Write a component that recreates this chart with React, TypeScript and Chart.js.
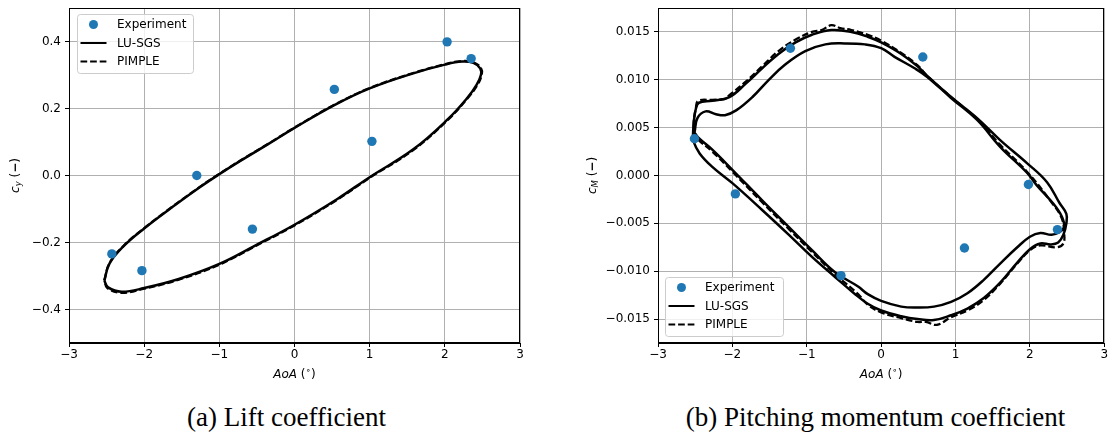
import React, { useEffect, useRef } from "react";
import { Chart, registerables } from "chart.js";
Chart.register(...registerables);

// ---------------- data ----------------
const xTickValues = [-3, -2, -1, 0, 1, 2, 3];
const liftTickValues = [-0.4, -0.2, 0.0, 0.2, 0.4];
const momentTickValues = [-0.015, -0.01, -0.005, 0.0, 0.005, 0.01, 0.015];
const seriesNames = ["Experiment", "LU-SGS", "PIMPLE"];
const captionA = "(a) Lift coefficient";
const captionB = "(b) Pitching momentum coefficient";

// (a) lift coefficient
const liftExpAoa = [-2.43, -2.03, -1.3, -0.56, 0.53, 1.03, 2.03, 2.35];
const liftExpCy = [-0.234, -0.284, 0.0, -0.16, 0.257, 0.102, 0.399, 0.349];

const liftLuAoa = [-2.53, -2.46, -2.27, -2.0, -1.63, -1.26, -1.0, -0.71, -0.34, 0.0, 0.53, 1.0, 1.58, 2.0, 2.23, 2.38, 2.47, 2.48, 2.42, 2.3, 2.04, 1.58, 1.0, 0.57, 0.0, -0.53, -1.0, -1.54, -2.0, -2.3, -2.48, -2.53];
const liftLuCy = [-0.314, -0.262, -0.21, -0.158, -0.095, -0.035, 0.004, 0.045, 0.095, 0.142, 0.21, 0.26, 0.305, 0.331, 0.34, 0.336, 0.32, 0.3, 0.27, 0.232, 0.168, 0.078, -0.005, -0.07, -0.147, -0.21, -0.264, -0.309, -0.336, -0.347, -0.334, -0.314];

const liftPiAoa = [-2.53, -2.46, -2.27, -2.0, -1.63, -1.26, -1.0, -0.71, -0.34, 0.0, 0.53, 1.0, 1.58, 2.0, 2.23, 2.38, 2.48, 2.49, 2.43, 2.3, 2.04, 1.58, 1.0, 0.57, 0.0, -0.53, -1.0, -1.54, -2.0, -2.3, -2.49, -2.53];
const liftPiCy = [-0.313, -0.261, -0.209, -0.157, -0.094, -0.034, 0.005, 0.046, 0.096, 0.143, 0.211, 0.261, 0.306, 0.332, 0.342, 0.338, 0.321, 0.3, 0.269, 0.23, 0.166, 0.076, -0.007, -0.072, -0.149, -0.212, -0.266, -0.311, -0.338, -0.35, -0.336, -0.313];

// (b) pitching momentum coefficient
const momExpAoa = [-2.51, -1.96, -1.22, -0.54, 0.56, 1.12, 1.98, 2.37];
const momExpCm = [0.00384, -0.00192, 0.01329, -0.01046, 0.01238, -0.00757, -0.00094, -0.00565];

// LU-SGS: outer cycle followed by inner cycle
const momLuAoa = [
  -2.53, -2.52, -2.49, -2.45, -2.27, -2.04, -1.82, -1.6, -1.38, -1.15, -0.93, -0.67, -0.4, -0.18, 0.0, 0.27, 0.49, 0.62, 0.94, 1.29, 1.6, 1.96, 2.23, 2.4, 2.49, 2.49, 2.45, 2.38, 2.28, 2.14, 2.0, 1.83, 1.6, 1.38, 1.16, 0.94, 0.71, 0.49, 0.27, 0.0, -0.18, -0.35, -0.62, -0.93, -1.24, -1.6, -2.0, -2.27, -2.44, -2.53, -2.53,
  -2.51, -2.47, -2.36, -2.22, -2.1, -1.95, -1.73, -1.51, -1.29, -1.02, -0.75, -0.49, -0.22, 0.0, 0.18, 0.45, 0.62, 0.94, 1.29, 1.6, 1.96, 2.09, 2.31, 2.43, 2.46, 2.4, 2.29, 2.14, 2.0, 1.83, 1.6, 1.38, 1.16, 0.94, 0.71, 0.49, 0.27, 0.0, -0.18, -0.31, -0.62, -0.93, -1.24, -1.6, -2.0, -2.27, -2.45, -2.51,
];
const momLuCm = [
  0.0042, 0.0055, 0.007, 0.0076, 0.0078, 0.0082, 0.0096, 0.0112, 0.0127, 0.0139, 0.0147, 0.0152, 0.015, 0.0145, 0.0139, 0.0127, 0.0114, 0.0104, 0.0082, 0.006, 0.0037, 0.0013, -0.0007, -0.0029, -0.004, -0.005, -0.0062, -0.007, -0.0072, -0.0071, -0.0077, -0.0091, -0.0112, -0.0128, -0.0139, -0.0146, -0.0151, -0.015, -0.0147, -0.0141, -0.0134, -0.0124, -0.0106, -0.0085, -0.0062, -0.0036, -0.0008, 0.0009, 0.0023, 0.0037, 0.0042,
  0.0045, 0.006, 0.0067, 0.0064, 0.0063, 0.0068, 0.0082, 0.01, 0.0116, 0.013, 0.0137, 0.0138, 0.0137, 0.0133, 0.0124, 0.0112, 0.0103, 0.0081, 0.0058, 0.003, 0.0003, -0.001, -0.0029, -0.0043, -0.0054, -0.0059, -0.0062, -0.006, -0.0064, -0.0075, -0.0092, -0.0109, -0.0123, -0.0132, -0.0137, -0.0138, -0.0137, -0.0131, -0.0124, -0.0116, -0.0101, -0.0078, -0.0054, -0.0026, 0.0006, 0.0027, 0.0039, 0.0045,
];

const momPiAoa = [-2.51, -2.52, -2.49, -2.46, -2.27, -2.1, -2.04, -1.82, -1.6, -1.38, -1.15, -0.93, -0.8, -0.67, -0.55, -0.4, -0.18, 0.0, 0.27, 0.49, 0.62, 0.94, 1.29, 1.6, 1.96, 2.31, 2.43, 2.46, 2.45, 2.36, 2.14, 2.0, 1.83, 1.6, 1.38, 1.16, 0.94, 0.75, 0.6, 0.49, 0.27, 0.0, -0.18, -0.31, -0.62, -0.93, -1.24, -1.6, -2.0, -2.27, -2.44, -2.51];
const momPiCm = [0.0041, 0.0055, 0.0071, 0.0078, 0.0079, 0.008, 0.0084, 0.0098, 0.0114, 0.013, 0.0142, 0.015, 0.0152, 0.0157, 0.0154, 0.0152, 0.0147, 0.0141, 0.0128, 0.0115, 0.0104, 0.0082, 0.0059, 0.0032, 0.0004, -0.003, -0.0045, -0.006, -0.0071, -0.0075, -0.0073, -0.0078, -0.0092, -0.0113, -0.013, -0.0141, -0.0148, -0.0156, -0.0153, -0.0153, -0.0149, -0.0143, -0.0135, -0.0124, -0.0103, -0.008, -0.0056, -0.0028, 0.0004, 0.0025, 0.0036, 0.0041];

// ---------------- helpers ----------------
const FAMILY = '"DejaVu Sans", sans-serif';
const MINUS = "\u2212";
const fmt = (v: number, d: number) => (v < -1e-12 ? MINUS : "") + Math.abs(v).toFixed(d);
const pts = (xs: number[], ys: number[]) => xs.map((x, i) => ({ x, y: ys[i] }));

type Seg = { t: string; font: string; dy?: number };
function drawSegs(ctx: CanvasRenderingContext2D, segs: Seg[], cx: number, cy: number) {
  let total = 0;
  const widths = segs.map((s) => {
    ctx.font = s.font;
    const w = ctx.measureText(s.t).width;
    total += w;
    return w;
  });
  let x = cx - total / 2;
  ctx.textAlign = "left";
  ctx.textBaseline = "middle";
  ctx.fillStyle = "#000";
  segs.forEach((s, i) => {
    ctx.font = s.font;
    ctx.fillText(s.t, x, cy + (s.dy || 0));
    x += widths[i];
  });
}

type Box = { x: number; y: number; w: number; h: number };
function drawLegend(ctx: CanvasRenderingContext2D, b: Box) {
  ctx.save();
  ctx.beginPath();
  (ctx as any).roundRect(b.x + 0.5, b.y + 0.5, b.w, b.h, 3);
  ctx.fillStyle = "rgba(255,255,255,0.8)";
  ctx.fill();
  ctx.strokeStyle = "#cccccc";
  ctx.lineWidth = 1;
  ctx.stroke();
  seriesNames.forEach((name, i) => {
    const ry = b.y + 10.5 + i * 18.5;
    if (i === 0) {
      ctx.beginPath();
      ctx.arc(b.x + 16.5, ry, 4.5, 0, Math.PI * 2);
      ctx.fillStyle = "#1f77b4";
      ctx.fill();
    } else {
      ctx.beginPath();
      ctx.setLineDash(i === 2 ? [6.7, 2.9] : []);
      ctx.moveTo(b.x + 3.5, ry);
      ctx.lineTo(b.x + 29.5, ry);
      ctx.strokeStyle = "#000";
      ctx.lineWidth = 2;
      ctx.stroke();
      ctx.setLineDash([]);
    }
    ctx.font = `12px ${FAMILY}`;
    ctx.fillStyle = "#000";
    ctx.textAlign = "left";
    ctx.textBaseline = "middle";
    ctx.fillText(name, b.x + 40, ry + 0.5);
  });
  ctx.restore();
}

type Cfg = {
  yMin: number;
  yMax: number;
  yTicks: number[];
  yDigits: number;
  yAxisWidth: number;
  padRight: number;
  yTitle: Seg[];
  yTitleX: number;
  legend: Box;
  exp: { x: number; y: number }[];
  lu: { x: number; y: number }[];
  pi: { x: number; y: number }[];
};

function makeChart(canvas: HTMLCanvasElement, cfg: Cfg) {
  const decor = {
    id: "decor",
    afterDatasetsDraw(chart: any) {
      const ctx: CanvasRenderingContext2D = chart.ctx;
      const a = chart.chartArea;
      ctx.save();
      ctx.strokeStyle = "#000";
      ctx.lineWidth = 1;
      ctx.strokeRect(Math.round(a.left) + 0.5, Math.round(a.top) + 0.5, Math.round(a.right - a.left) - 1, Math.round(a.bottom - a.top) - 1);
      drawLegend(ctx, cfg.legend);
      // x title
      drawSegs(
        ctx,
        [
          { t: "AoA", font: `italic 12px ${FAMILY}` },
          { t: " (", font: `12px ${FAMILY}` },
          { t: "\u2218", font: `9px ${FAMILY}`, dy: -4 },
          { t: ")", font: `12px ${FAMILY}` },
        ],
        (a.left + a.right) / 2,
        375
      );
      // y title
      ctx.save();
      ctx.translate(cfg.yTitleX, (a.top + a.bottom) / 2);
      ctx.rotate(-Math.PI / 2);
      drawSegs(ctx, cfg.yTitle, 0, 0);
      ctx.restore();
      ctx.restore();
    },
  };

  const gridOpts = { color: "#b0b0b0", lineWidth: 1, tickColor: "#000", tickLength: 4, drawTicks: true };
  const borderOpts = { display: true, color: "#000", width: 1 };

  return new Chart(canvas, {
    type: "scatter",
    data: {
      datasets: [
        {
          label: seriesNames[0],
          data: cfg.exp,
          pointRadius: 4.7,
          pointBackgroundColor: "#1f77b4",
          pointBorderWidth: 0,
          showLine: false,
        },
        {
          label: seriesNames[1],
          data: cfg.lu,
          showLine: true,
          borderColor: "#000",
          borderWidth: 2.5,
          pointRadius: 0,
          tension: 0.4,
          fill: false,
        },
        {
          label: seriesNames[2],
          data: cfg.pi,
          showLine: true,
          borderColor: "#000",
          borderWidth: 2.3,
          borderDash: [6.7, 2.9],
          pointRadius: 0,
          tension: 0.4,
          fill: false,
        },
      ],
    } as any,
    options: {
      animation: false,
      responsive: false,
      maintainAspectRatio: false,
      events: [],
      layout: { padding: { top: 8, right: cfg.padRight, left: 0, bottom: 0 } },
      plugins: { legend: { display: false }, tooltip: { enabled: false } },
      scales: {
        x: {
          type: "linear",
          min: -3,
          max: 3,
          afterBuildTicks: (s: any) => {
            s.ticks = xTickValues.map((v) => ({ value: v }));
          },
          afterFit: (s: any) => {
            s.height = 52;
            s.paddingLeft = 0;
            s.paddingRight = 0;
          },
          ticks: {
            callback: (v: any) => fmt(Number(v), 0),
            font: { family: FAMILY, size: 12 },
            color: "#000",
            padding: 1,
            maxRotation: 0,
            autoSkip: false,
          },
          grid: gridOpts,
          border: borderOpts,
        },
        y: {
          type: "linear",
          min: cfg.yMin,
          max: cfg.yMax,
          afterBuildTicks: (s: any) => {
            s.ticks = cfg.yTicks.map((v) => ({ value: v }));
          },
          afterFit: (s: any) => {
            s.width = cfg.yAxisWidth;
            s.paddingTop = 0;
            s.paddingBottom = 0;
          },
          ticks: {
            callback: (v: any) => fmt(Number(v), cfg.yDigits),
            font: { family: FAMILY, size: 12 },
            color: "#000",
            padding: 4,
            autoSkip: false,
          },
          grid: gridOpts,
          border: borderOpts,
        },
      },
    } as any,
    plugins: [decor],
  });
}

export default function App() {
  const leftRef = useRef<HTMLCanvasElement>(null);
  const rightRef = useRef<HTMLCanvasElement>(null);

  useEffect(() => {
    const c1 = makeChart(leftRef.current!, {
      yMin: -0.5,
      yMax: 0.5,
      yTicks: liftTickValues,
      yDigits: 1,
      yAxisWidth: 69,
      padRight: 15,
      yTitleX: 16,
      yTitle: [
        { t: "c", font: `italic 12px ${FAMILY}` },
        { t: "y", font: `italic 8.5px ${FAMILY}`, dy: 3 },
        { t: " (", font: `12px ${FAMILY}` },
        { t: MINUS, font: `bold 12px ${FAMILY}` },
        { t: ")", font: `12px ${FAMILY}` },
      ],
      legend: { x: 77, y: 14, w: 116, h: 59 },
      exp: pts(liftExpAoa, liftExpCy),
      lu: pts(liftLuAoa, liftLuCy),
      pi: pts(liftPiAoa, liftPiCy),
    });
    const c2 = makeChart(rightRef.current!, {
      yMin: -0.0175,
      yMax: 0.0175,
      yTicks: momentTickValues,
      yDigits: 3,
      yAxisWidth: 78,
      padRight: 2,
      yTitleX: 13,
      yTitle: [
        { t: "c", font: `italic 12px ${FAMILY}` },
        { t: "M", font: `italic 8.5px ${FAMILY}`, dy: 3 },
        { t: " (", font: `12px ${FAMILY}` },
        { t: MINUS, font: `bold 12px ${FAMILY}` },
        { t: ")", font: `12px ${FAMILY}` },
      ],
      legend: { x: 85, y: 277, w: 118, h: 59 },
      exp: pts(momExpAoa, momExpCm),
      lu: pts(momLuAoa, momLuCm),
      pi: pts(momPiAoa, momPiCm),
    });
    return () => {
      c1.destroy();
      c2.destroy();
    };
  }, []);

  const capStyle: React.CSSProperties = {
    position: "absolute",
    top: 402,
    width: 500,
    textAlign: "center",
    font: '27px "Liberation Serif", serif',
    lineHeight: "30px",
    color: "#000",
    whiteSpace: "nowrap",
  };

  return (
    <div style={{ position: "absolute", left: 0, top: 0, width: 1109, height: 436, background: "#fff", overflow: "hidden" }}>
      <canvas ref={leftRef} width={535} height={395} style={{ position: "absolute", left: 0, top: 0, display: "block" }} />
      <canvas ref={rightRef} width={529} height={395} style={{ position: "absolute", left: 580, top: 0, display: "block" }} />
      <div style={{ ...capStyle, left: 286.5 - 250 }}>{captionA}</div>
      <div style={{ ...capStyle, left: 875.5 - 250 }}>{captionB}</div>
    </div>
  );
}
